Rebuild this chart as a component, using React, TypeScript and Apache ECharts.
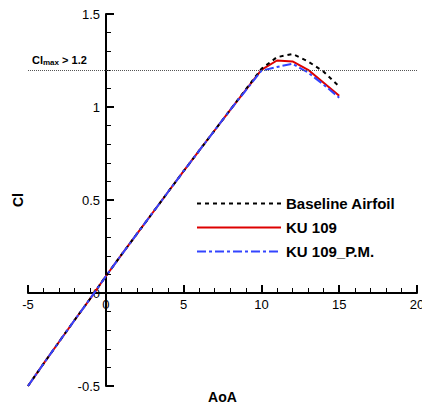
import React, { useEffect, useRef } from "react";
import * as echarts from "echarts";

const aoa = [-5, -4, -3, -2, -1, 0, 1, 2, 3, 4, 5, 6, 7, 8, 9, 10, 11, 12, 13, 14, 15];
const baseline = [-0.5, -0.38, -0.262, -0.145, -0.03, 0.09, 0.205, 0.318, 0.43, 0.543, 0.655, 0.765, 0.875, 0.985, 1.095, 1.205, 1.268, 1.285, 1.245, 1.19, 1.11];
const ku109 = [-0.5, -0.38, -0.262, -0.145, -0.03, 0.09, 0.205, 0.318, 0.43, 0.543, 0.655, 0.765, 0.875, 0.985, 1.092, 1.2, 1.25, 1.245, 1.2, 1.13, 1.06];
const ku109pm = [-0.5, -0.38, -0.262, -0.145, -0.03, 0.09, 0.205, 0.318, 0.43, 0.543, 0.655, 0.765, 0.875, 0.985, 1.09, 1.195, 1.215, 1.233, 1.185, 1.12, 1.05];
const seriesNames = ["Baseline Airfoil", "KU 109", "KU 109_P.M."];
const clMaxLevel = 1.2;

const FONT = "Liberation Sans, Arial, sans-serif";

export default function App() {
  const ref = useRef<HTMLDivElement>(null);
  useEffect(() => {
    if (!ref.current) return;
    const chart = echarts.init(ref.current, undefined, { renderer: "svg" });
    const pair = (ys: number[]) => aoa.map((x, i) => [x, ys[i]]);
    const xBase = { type: "value", min: -5, max: 20, interval: 5, splitLine: { show: false } };
    const yBase = { type: "value", min: -0.5, max: 1.5, interval: 0.5, splitLine: { show: false } };
    const nameStyle = { fontFamily: FONT, fontSize: 14, fontWeight: "bold", color: "#000" };
    const g = { containLabel: false, outerBoundsMode: "none" };
    const labelsOnly = {
      axisLine: { show: false, onZero: false },
      axisTick: { show: false },
      minorTick: { show: false },
    };
    const tickAxis = {
      axisLine: { show: true, onZero: false, lineStyle: { color: "#000", width: 2 } },
      axisTick: { show: true, inside: false, length: 8, lineStyle: { color: "#000", width: 2 } },
      minorTick: { show: true, splitNumber: 5, length: 5, lineStyle: { color: "#000", width: 1 } },
      axisLabel: { show: false },
    };
    chart.setOption({
      animation: false,
      textStyle: { fontFamily: FONT },
      grid: [
        { ...g, left: 28, right: 5, top: 14, bottom: 22 },   // 0 plot
        { ...g, left: 28, right: 5, top: 293, bottom: 22 },  // 1 x line at Cl=0 (ticks up)
        { ...g, left: 28, right: 316, top: 14, bottom: 22 }, // 2 y line at AoA=0 (ticks right)
        { ...g, left: 28, right: 5, top: 14, bottom: 115 },  // 3 x labels below Cl=0
        { ...g, left: 106, right: 5, top: 14, bottom: 22 },  // 4 y labels left of AoA=0
      ],
      legend: {
        left: 191,
        top: 191,
        orient: "vertical",
        itemWidth: 84,
        itemHeight: 10,
        itemGap: 9,
        itemStyle: { opacity: 0 },
        textStyle: { fontFamily: FONT, fontSize: 15, fontWeight: "bold", color: "#000" },
        data: seriesNames,
      },
      xAxis: [
        { ...xBase, gridIndex: 0, show: false },
        { ...xBase, gridIndex: 1, position: "top", ...tickAxis },
        { ...xBase, gridIndex: 2, show: false },
        {
          ...xBase,
          gridIndex: 3,
          position: "bottom",
          name: "AoA",
          nameLocation: "middle",
          nameGap: 97,
          nameTextStyle: nameStyle,
          ...labelsOnly,
          axisLabel: { show: true, fontFamily: FONT, fontSize: 13, color: "#000", margin: 5 },
        },
        { ...xBase, gridIndex: 4, show: false },
      ],
      yAxis: [
        { ...yBase, gridIndex: 0, show: false },
        { ...yBase, gridIndex: 1, show: false },
        { ...yBase, gridIndex: 2, position: "right", ...tickAxis },
        { ...yBase, gridIndex: 3, show: false },
        {
          ...yBase,
          gridIndex: 4,
          position: "left",
          name: "Cl",
          nameLocation: "middle",
          nameGap: 81,
          nameRotate: 90,
          nameTextStyle: nameStyle,
          ...labelsOnly,
          axisLabel: { show: true, fontFamily: FONT, fontSize: 13, color: "#000", margin: 6 },
        },
      ],
      series: [
        {
          name: seriesNames[0],
          type: "line",
          xAxisIndex: 0,
          yAxisIndex: 0,
          data: pair(baseline),
          symbol: "none",
          z: 3,
          lineStyle: { color: "#000", width: 2, type: [4, 4] },
          itemStyle: { color: "#000" },
          markLine: {
            silent: true,
            symbol: "none",
            lineStyle: { color: "#555", width: 1, type: [1, 1] },
            label: {
              show: true,
              position: "insideStartTop",
              distance: [4, 3],
              formatter: () => "{a|Cl}{b|max}{a| > 1.2}",
              rich: {
                a: { fontFamily: FONT, fontSize: 11, fontWeight: "bold", color: "#000" },
                b: { fontFamily: FONT, fontSize: 8, fontWeight: "bold", color: "#000", padding: [6, 0, 0, 0] },
              },
            },
            data: [{ yAxis: clMaxLevel }],
          },
        },
        {
          name: seriesNames[1],
          type: "line",
          xAxisIndex: 0,
          yAxisIndex: 0,
          data: pair(ku109),
          symbol: "none",
          z: 2,
          lineStyle: { color: "#dd0000", width: 2, type: "solid" },
          itemStyle: { color: "#dd0000" },
        },
        {
          name: seriesNames[2],
          type: "line",
          xAxisIndex: 0,
          yAxisIndex: 0,
          data: pair(ku109pm),
          symbol: "none",
          z: 4,
          lineStyle: { color: "#3344ff", width: 2, type: [9, 3, 3, 3] },
          itemStyle: { color: "#3344ff" },
        },
      ],
    });
    return () => chart.dispose();
  }, []);
  return <div ref={ref} style={{ width: 422, height: 408, position: "absolute", left: 0, top: 0 }} />;
}
